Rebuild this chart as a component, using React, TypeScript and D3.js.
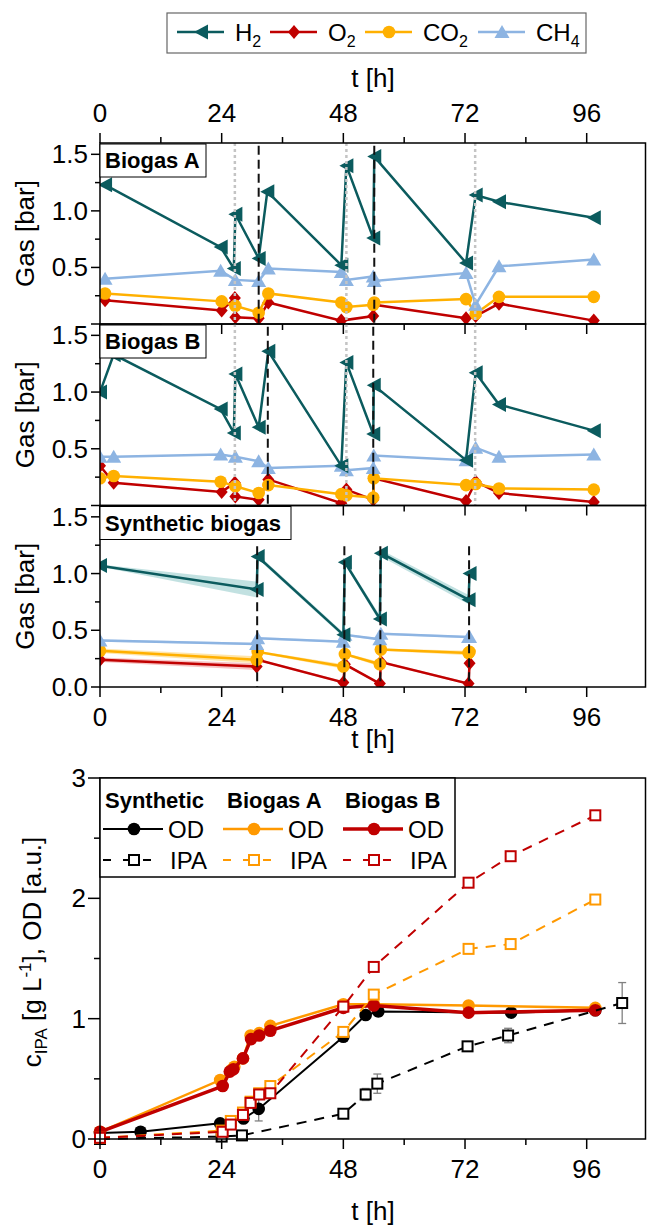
import React from "react";
import * as d3 from "d3";

const FONT = '"Liberation Sans", Arial, Helvetica, sans-serif';

// time axis ticks [h]
const hoursMajor = [0, 24, 48, 72, 96];
const hoursMinor = [12, 36, 60, 84];
const gasMajor = [0, 0.5, 1.0, 1.5];
const gasMinor = [0.25, 0.75, 1.25];

// ---- Biogas A ----
const A_H2_t = [1, 23.8, 26.4, 26.7, 31.3, 33.0, 47.6, 48.6, 53.9, 54.1, 72.2, 74.1, 78.7, 97.4];
const A_H2 = [1.23, 0.68, 0.49, 0.97, 0.58, 1.17, 0.52, 1.4, 0.76, 1.48, 0.54, 1.14, 1.08, 0.94];
const A_CH4_t = [1, 23.8, 26.7, 31.3, 33.2, 47.6, 48.6, 53.9, 54.1, 72.2, 74.1, 78.7, 97.4];
const A_CH4 = [0.4, 0.47, 0.39, 0.38, 0.49, 0.46, 0.39, 0.42, 0.38, 0.45, 0.17, 0.51, 0.57];
const A_CO2_t = [1, 24, 26.7, 31.3, 33.2, 47.6, 48.6, 53.9, 54.1, 72.2, 74.1, 78.7, 97.4];
const A_CO2 = [0.27, 0.2, 0.16, 0.1, 0.27, 0.19, 0.15, 0.17, 0.19, 0.22, 0.09, 0.24, 0.24];
const A_O2_t = [1, 24, 26.6, 26.7, 31.3, 33.2, 47.6, 53.9, 54.1, 72.2, 74.1, 78.7, 97.4];
const A_O2 = [0.21, 0.12, 0.23, 0.06, 0.05, 0.19, 0.03, 0.07, 0.17, 0.05, 0.07, 0.18, 0.03];
const A_refill = [31.3, 54.1];
const A_sample = [26.6, 48.6, 74.0];

// ---- Biogas B ----
const B_H2_t = [0, 2.7, 23.8, 26.4, 26.7, 31.3, 33.2, 47.6, 48.6, 53.9, 54.0, 72.2, 74.1, 78.7, 97.4];
const B_H2 = [1.0, 1.33, 0.85, 0.64, 1.16, 0.69, 1.36, 0.35, 1.26, 0.63, 1.06, 0.4, 1.17, 0.89, 0.66];
const B_gas_t = [0, 2.7, 23.8, 26.7, 31.3, 33.2, 47.6, 48.6, 53.9, 54.0, 72.2, 74.1, 78.7, 97.4];
const B_CH4 = [0.43, 0.43, 0.45, 0.43, 0.39, 0.33, 0.35, 0.31, 0.33, 0.44, 0.4, 0.51, 0.43, 0.45];
const B_CO2 = [0.24, 0.26, 0.21, 0.17, 0.11, 0.18, 0.1, 0.09, 0.07, 0.24, 0.18, 0.19, 0.15, 0.14];
const B_O2_t = [0, 2.7, 24, 26.6, 26.7, 31.3, 33.2, 47.6, 48.6, 53.9, 54.0, 72.2, 74.1, 78.7, 97.4];
const B_O2 = [0.35, 0.2, 0.12, 0.2, 0.08, 0.05, 0.23, 0.02, 0.14, 0.05, 0.24, 0.04, 0.21, 0.11, 0.03];
const B_refill = [33.1, 53.9];
const B_sample = [26.6, 48.6, 74.0];

// ---- Synthetic biogas (mean +/- sd) ----
const C_t = [0, 30.9, 31.1, 48.0, 48.3, 55.2, 55.4, 72.7, 72.9];
const C_H2 = [1.07, 0.86, 1.15, 0.46, 1.1, 0.6, 1.18, 0.77, 1.0];
const C_H2_sd = [0.01, 0.07, 0.02, 0.02, 0.02, 0.03, 0.03, 0.04, 0.01];
const C_CH4 = [0.41, 0.38, 0.43, 0.4, 0.46, 0.42, 0.47, 0.44, 0.44];
const C_CH4_sd = [0.01, 0.01, 0.01, 0.01, 0.01, 0.01, 0.01, 0.01, 0.01];
const C_CO2 = [0.32, 0.24, 0.31, 0.18, 0.29, 0.2, 0.33, 0.3, 0.31];
const C_CO2_sd = [0.02, 0.03, 0.01, 0.02, 0.01, 0.02, 0.01, 0.02, 0.01];
const C_O2 = [0.24, 0.18, 0.24, 0.04, 0.2, 0.03, 0.22, 0.03, 0.21];
const C_O2_sd = [0.02, 0.03, 0.01, 0.01, 0.01, 0.01, 0.01, 0.01, 0.01];
const C_refill = [31.0, 48.2, 55.3, 72.8];

// ---- growth / IPA (bottom) ----
const odMajor = [0, 1, 2, 3];
const odMinor = [0.5, 1.5, 2.5];
const S_OD_t = [0, 8, 23.7, 28.3, 31.3, 48, 52.4, 54.9, 81.1, 97.7];
const S_OD = [0.05, 0.06, 0.13, 0.17, 0.25, 0.85, 1.03, 1.06, 1.05, 1.07];
const S_OD_sd = [0, 0, 0.01, 0.03, 0.1, 0.02, 0.02, 0.01, 0.01, 0.01];
const S_IPA_t = [0, 24, 28, 48, 52.4, 54.7, 72.5, 80.5, 103];
const S_IPA = [0.0, 0.02, 0.03, 0.21, 0.37, 0.46, 0.77, 0.86, 1.13];
const S_IPA_sd = [0, 0.01, 0.01, 0.03, 0.05, 0.08, 0.03, 0.06, 0.17];
const A_OD_t = [0, 23.7, 25.8, 26.5, 28.2, 29.7, 31.4, 33.6, 48, 54, 72.7, 97.7];
const A_OD = [0.06, 0.49, 0.57, 0.6, 0.67, 0.86, 0.88, 0.94, 1.12, 1.12, 1.11, 1.09];
const B_OD_t = [0, 24.2, 25.6, 26.3, 28.2, 29.8, 31.4, 33.6, 48, 54, 72.7, 97.7];
const B_OD = [0.06, 0.44, 0.56, 0.58, 0.67, 0.83, 0.86, 0.9, 1.09, 1.11, 1.05, 1.07];
const A_IPA_t = [0, 24, 25.8, 28.2, 29.7, 31.4, 33.6, 48, 54, 72.7, 81, 97.7];
const A_IPA = [0.01, 0.07, 0.15, 0.22, 0.31, 0.38, 0.44, 0.89, 1.2, 1.58, 1.62, 1.99];
const B_IPA_t = [0, 24.2, 25.8, 28.2, 29.7, 31.4, 33.6, 48, 54, 72.7, 81, 97.7];
const B_IPA = [0.01, 0.06, 0.12, 0.2, 0.3, 0.37, 0.38, 1.1, 1.43, 2.13, 2.35, 2.69];

const COL = { H2: "#0b5b5e", O2: "#c00000", CO2: "#ffb000", CH4: "#8db4e2" };
const BAND = { H2: "#b7dcdc", O2: "#f5b9b9", CO2: "#ffe09a", CH4: "#d3e3f6" };
const SHAPE = { H2: "left", O2: "diamond", CO2: "circle", CH4: "up" };
const ORANGE = "#ff9900";
const RED = "#c00000";

const x = d3.scaleLinear().domain([0, 107.6]).range([100, 645.5]);
const L = 100;
const R = 645.5;

function Marker({ shape, cx, cy, color }: any) {
  if (shape === "left")
    return <path d={`M${cx - 7},${cy}L${cx + 7},${cy - 7.5}L${cx + 7},${cy + 7.5}Z`} fill={color} />;
  if (shape === "up")
    return <path d={`M${cx},${cy - 7}L${cx + 7.5},${cy + 6}L${cx - 7.5},${cy + 6}Z`} fill={color} />;
  if (shape === "diamond")
    return <path d={`M${cx},${cy - 7}L${cx + 6},${cy}L${cx},${cy + 7}L${cx - 6},${cy}Z`} fill={color} />;
  if (shape === "square")
    return <rect x={cx - 5} y={cy - 5} width={10} height={10} fill="#fff" stroke={color} strokeWidth={2} />;
  return <circle cx={cx} cy={cy} r={6.3} fill={color} />;
}

function pairs(t: number[], v: number[]) {
  return t.map((d, i) => [d, v[i]] as [number, number]);
}

function GasPanel({ id, top, bottom, title, titleW, series, refill, sample, refillTop, bands, zero }: any) {
  const y = d3.scaleLinear().domain([0, 1.6]).range([bottom, top]);
  const line = d3.line<[number, number]>().x((d) => x(d[0])).y((d) => y(d[1]));
  const area = d3
    .area<any>()
    .x((d) => x(d.t))
    .y0((d) => y(d.v - d.e))
    .y1((d) => y(d.v + d.e));
  return (
    <g>
      <defs>
        <clipPath id={id}>
          <rect x={L} y={top} width={R - L} height={bottom - top} />
        </clipPath>
      </defs>
      <g clipPath={`url(#${id})`}>
        {bands &&
          series.map((s: any) => (
            <path
              key={"b" + s.gas}
              d={area(s.t.map((t: number, i: number) => ({ t, v: s.v[i], e: s.e[i] }))) || ""}
              fill={(BAND as any)[s.gas]}
              opacity={0.85}
            />
          ))}
        {series.map((s: any) => (
          <g key={s.gas}>
            <path d={line(pairs(s.t, s.v)) || ""} fill="none" stroke={(COL as any)[s.gas]} strokeWidth={2.5} />
            {s.t.map((t: number, i: number) => (
              <Marker key={i} shape={(SHAPE as any)[s.gas]} cx={x(t)} cy={y(s.v[i])} color={(COL as any)[s.gas]} />
            ))}
          </g>
        ))}
        {sample.map((t: number) => (
          <line key={"s" + t} x1={x(t)} x2={x(t)} y1={top} y2={bottom} stroke="#c4c4c4" strokeWidth={2.5} strokeDasharray="3,3" />
        ))}
        {refill.map((t: number) => (
          <line key={"r" + t} x1={x(t)} x2={x(t)} y1={y(refillTop)} y2={bottom} stroke="#111" strokeWidth={2} strokeDasharray="9,5" />
        ))}
      </g>
      <rect x={L} y={top} width={R - L} height={bottom - top} fill="none" stroke="#000" strokeWidth={1.5} />
      {gasMajor.map((v) => (
        <g key={"ym" + v}>
          <line x1={L - 9} x2={L} y1={y(v)} y2={y(v)} stroke="#000" strokeWidth={1.5} />
          {(v > 0 || zero) && (
            <text x={88} y={y(v) + 9} textAnchor="end" fontSize={26}>
              {v.toFixed(1)}
            </text>
          )}
        </g>
      ))}
      {gasMinor.map((v) => (
        <line key={"yn" + v} x1={L - 5} x2={L} y1={y(v)} y2={y(v)} stroke="#000" strokeWidth={1.5} />
      ))}
      {hoursMajor.map((h) => (
        <line key={"xm" + h} x1={x(h)} x2={x(h)} y1={bottom} y2={bottom + 10} stroke="#000" strokeWidth={1.5} />
      ))}
      {hoursMinor.map((h) => (
        <line key={"xn" + h} x1={x(h)} x2={x(h)} y1={bottom} y2={bottom + 6} stroke="#000" strokeWidth={1.5} />
      ))}
      <rect x={L} y={top + 1} width={titleW} height={33} fill="#fff" stroke="#000" strokeWidth={1} />
      <text x={L + 5} y={top + 25} fontSize={22} fontWeight="bold">
        {title}
      </text>
      <text transform={`translate(34,${(top + bottom) / 2}) rotate(-90)`} textAnchor="middle" fontSize={26}>
        Gas [bar]
      </text>
    </g>
  );
}

function TopLegend() {
  const items = [
    { gas: "H2", label: "H", sub: "2", tx: 235 },
    { gas: "O2", label: "O", sub: "2", tx: 328 },
    { gas: "CO2", label: "CO", sub: "2", tx: 423 },
    { gas: "CH4", label: "CH", sub: "4", tx: 536 },
  ];
  return (
    <g>
      <rect x={167} y={13} width={419} height={40} fill="#fff" stroke="#666" strokeWidth={1.2} />
      {items.map((it) => (
        <g key={it.gas}>
          <line x1={it.tx - 58} x2={it.tx - 11} y1={32} y2={32} stroke={(COL as any)[it.gas]} strokeWidth={2.5} />
          <Marker shape={(SHAPE as any)[it.gas]} cx={it.tx - 34} cy={32} color={(COL as any)[it.gas]} />
          <text x={it.tx} y={41} fontSize={24}>
            {it.label}
            <tspan fontSize={16} dy={6}>
              {it.sub}
            </tspan>
          </text>
        </g>
      ))}
    </g>
  );
}

function BottomChart() {
  const top = 778;
  const bottom = 1139;
  const y = d3.scaleLinear().domain([0, 3]).range([bottom, top]);
  const line = d3.line<[number, number]>().x((d) => x(d[0])).y((d) => y(d[1]));
  const od = [
    { t: S_OD_t, v: S_OD, e: S_OD_sd, c: "#000", w: 2 },
    { t: A_OD_t, v: A_OD, c: ORANGE, w: 2.5 },
    { t: B_OD_t, v: B_OD, c: RED, w: 3.5 },
  ];
  const ipa = [
    { t: S_IPA_t, v: S_IPA, e: S_IPA_sd, c: "#000" },
    { t: A_IPA_t, v: A_IPA, c: ORANGE },
    { t: B_IPA_t, v: B_IPA, c: RED },
  ];
  const errBars = (s: any) =>
    s.e &&
    s.t.map((t: number, i: number) =>
      s.e[i] > 0.015 ? (
        <g key={"e" + i} stroke="#808080" strokeWidth={1.3}>
          <line x1={x(t)} x2={x(t)} y1={y(s.v[i] - s.e[i])} y2={y(s.v[i] + s.e[i])} />
          <line x1={x(t) - 4} x2={x(t) + 4} y1={y(s.v[i] - s.e[i])} y2={y(s.v[i] - s.e[i])} />
          <line x1={x(t) - 4} x2={x(t) + 4} y1={y(s.v[i] + s.e[i])} y2={y(s.v[i] + s.e[i])} />
        </g>
      ) : null
    );
  const legendCols = [
    { name: "Synthetic", hx: 105, lx: 103, c: "#000", w: 2, tx: 168 },
    { name: "Biogas A", hx: 227, lx: 223, c: ORANGE, w: 2.5, tx: 288 },
    { name: "Biogas B", hx: 345, lx: 343, c: RED, w: 3.5, tx: 408 },
  ];
  return (
    <g>
      {od.map((s, k) => (
        <g key={"od" + k}>
          {errBars(s)}
          <path d={line(pairs(s.t, s.v)) || ""} fill="none" stroke={s.c} strokeWidth={s.w} />
          {s.t.map((t, i) => (
            <circle key={i} cx={x(t)} cy={y(s.v[i])} r={6.3} fill={s.c} />
          ))}
        </g>
      ))}
      {ipa.map((s, k) => (
        <g key={"ipa" + k}>
          {errBars(s)}
          <path d={line(pairs(s.t, s.v)) || ""} fill="none" stroke={s.c} strokeWidth={2} strokeDasharray="10,8" />
          {s.t.map((t, i) => (
            <Marker key={i} shape="square" cx={x(t)} cy={y(s.v[i])} color={s.c} />
          ))}
        </g>
      ))}
      <rect x={L} y={top} width={R - L} height={bottom - top} fill="none" stroke="#000" strokeWidth={1.5} />
      {odMajor.map((v) => (
        <g key={"m" + v}>
          <line x1={L - 12} x2={L} y1={y(v)} y2={y(v)} stroke="#000" strokeWidth={1.5} />
          <text x={86} y={y(v) + 9} textAnchor="end" fontSize={26}>
            {v}
          </text>
        </g>
      ))}
      {odMinor.map((v) => (
        <line key={"n" + v} x1={L - 6} x2={L} y1={y(v)} y2={y(v)} stroke="#000" strokeWidth={1.5} />
      ))}
      {hoursMajor.map((h) => (
        <g key={"h" + h}>
          <line x1={x(h)} x2={x(h)} y1={bottom} y2={bottom + 10} stroke="#000" strokeWidth={1.5} />
          <text x={x(h)} y={1178} textAnchor="middle" fontSize={26}>
            {h}
          </text>
        </g>
      ))}
      {hoursMinor.map((h) => (
        <line key={"hn" + h} x1={x(h)} x2={x(h)} y1={bottom} y2={bottom + 6} stroke="#000" strokeWidth={1.5} />
      ))}
      <text x={373} y={1220} textAnchor="middle" fontSize={26}>
        t [h]
      </text>
      <text transform="translate(41,952) rotate(-90)" textAnchor="middle" fontSize={26}>
        c<tspan fontSize={17} dy={6}>IPA</tspan>
        <tspan dy={-6}> [g L</tspan>
        <tspan fontSize={17} dy={-10}>-1</tspan>
        <tspan dy={10}>], OD [a.u.]</tspan>
      </text>
      {/* legend */}
      <rect x={L} y={top} width={355} height={99} fill="#fff" stroke="#000" strokeWidth={1.5} />
      {legendCols.map((c) => (
        <g key={c.name}>
          <text x={c.hx} y={808} fontSize={22} fontWeight="bold">
            {c.name}
          </text>
          <line x1={c.lx} x2={c.lx + 60} y1={829} y2={829} stroke={c.c} strokeWidth={c.w} />
          <circle cx={c.lx + 31} cy={829} r={6.3} fill={c.c} />
          <text x={c.tx} y={838} fontSize={24}>
            OD
          </text>
          <line x1={c.lx} x2={c.lx + 60} y1={860} y2={860} stroke={c.c} strokeWidth={2} strokeDasharray="8,12" />
          <Marker shape="square" cx={c.lx + 31} cy={860} color={c.c} />
          <text x={c.tx + 2} y={869} fontSize={24}>
            IPA
          </text>
        </g>
      ))}
    </g>
  );
}

export default function App() {
  const A = [
    { gas: "O2", t: A_O2_t, v: A_O2 },
    { gas: "CO2", t: A_CO2_t, v: A_CO2 },
    { gas: "CH4", t: A_CH4_t, v: A_CH4 },
    { gas: "H2", t: A_H2_t, v: A_H2 },
  ];
  const B = [
    { gas: "O2", t: B_O2_t, v: B_O2 },
    { gas: "CO2", t: B_gas_t, v: B_CO2 },
    { gas: "CH4", t: B_gas_t, v: B_CH4 },
    { gas: "H2", t: B_H2_t, v: B_H2 },
  ];
  const C = [
    { gas: "O2", t: C_t, v: C_O2, e: C_O2_sd },
    { gas: "CO2", t: C_t, v: C_CO2, e: C_CO2_sd },
    { gas: "CH4", t: C_t, v: C_CH4, e: C_CH4_sd },
    { gas: "H2", t: C_t, v: C_H2, e: C_H2_sd },
  ];
  return (
    <svg
      width={647}
      height={1227}
      style={{ position: "absolute", left: 0, top: 0, background: "#fff" }}
      fontFamily={FONT}
    >
      <rect width={647} height={1227} fill="#fff" />
      <TopLegend />
      <text x={373} y={87} textAnchor="middle" fontSize={26}>
        t [h]
      </text>
      {hoursMajor.map((h) => (
        <g key={"t" + h}>
          <text x={x(h)} y={122} textAnchor="middle" fontSize={26}>
            {h}
          </text>
          <line x1={x(h)} x2={x(h)} y1={133} y2={143} stroke="#000" strokeWidth={1.5} />
        </g>
      ))}
      {hoursMinor.map((h) => (
        <line key={"tn" + h} x1={x(h)} x2={x(h)} y1={137} y2={143} stroke="#000" strokeWidth={1.5} />
      ))}
      <GasPanel id="cpA" top={143} bottom={324} title="Biogas A" titleW={106} series={A} refill={A_refill} sample={A_sample} refillTop={1.7} />
      <GasPanel id="cpB" top={324} bottom={505.5} title="Biogas B" titleW={106} series={B} refill={B_refill} sample={B_sample} refillTop={1.7} />
      <GasPanel id="cpC" top={505.5} bottom={687} title="Synthetic biogas" titleW={191} series={C} refill={C_refill} sample={[]} refillTop={1.24} bands zero />
      {hoursMajor.map((h) => (
        <text key={"c" + h} x={x(h)} y={726} textAnchor="middle" fontSize={26}>
          {h}
        </text>
      ))}
      <text x={373} y={748} textAnchor="middle" fontSize={26}>
        t [h]
      </text>
      <BottomChart />
    </svg>
  );
}
